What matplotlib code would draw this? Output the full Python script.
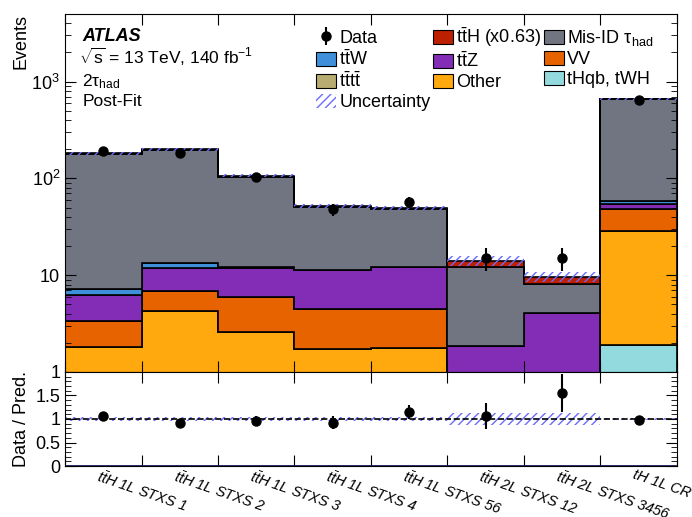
import numpy as np
import matplotlib
matplotlib.use("Agg")
import matplotlib.pyplot as plt
import matplotlib.patches as mpatches
from matplotlib.ticker import FixedLocator, MultipleLocator, LogLocator, NullFormatter

plt.rcParams["font.family"] = ["Liberation Sans", "DejaVu Sans"]
plt.rcParams["mathtext.fontset"] = "custom"
plt.rcParams["mathtext.rm"] = "Liberation Sans"
plt.rcParams["mathtext.it"] = "Liberation Sans:italic"
plt.rcParams["mathtext.bf"] = "Liberation Sans:bold"
plt.rcParams["mathtext.default"] = "regular"
plt.rcParams["hatch.linewidth"] = 1.0

# ---- data ----
bins = [r"$\mathit{t\bar{t}}$H 1L STXS 1", r"$\mathit{t\bar{t}}$H 1L STXS 2",
        r"$\mathit{t\bar{t}}$H 1L STXS 3", r"$\mathit{t\bar{t}}$H 1L STXS 4",
        r"$\mathit{t\bar{t}}$H 1L STXS 56", r"$\mathit{t\bar{t}}$H 2L STXS 12",
        r"$\mathit{t\bar{t}}$H 2L STXS 3456", "tH 1L CR"]

thqb  = [0.0, 0.0, 0.0, 0.0, 0.0, 0.0, 0.0, 1.90]
other = [1.80, 4.27, 2.61, 1.73, 1.78, 0.0, 0.0, 26.8]
vv    = [1.57, 2.56, 3.36, 2.72, 2.67, 0.0, 0.0, 19.5]
tttt  = [0.0, 0.0, 0.0, 0.0, 0.0, 0.0, 0.0, 0.0]
ttz   = [2.88, 4.97, 6.03, 6.85, 7.65, 1.87, 4.10, 6.0]
ttw   = [0.95, 1.50, 0.20, 0.10, 0.10, 0.0, 0.0, 4.9]
misid = [171.8, 184.7, 91.4, 39.1, 36.3, 10.3, 3.97, 602.0]
tth   = [2.5, 2.5, 3.4, 1.5, 1.0, 1.9, 1.6, 0.0]

data     = [193, 185, 103, 48, 57, 15, 15, 650]
data_err = [14, 14, 10, 7, 7.5, 3.9, 3.9, 25.5]
rel_unc  = [0.04, 0.04, 0.04, 0.04, 0.04, 0.12, 0.12, 0.02]

components = [
    ("tHqb, tWH", thqb, "#92dadd"),
    ("Other", other, "#ffa90e"),
    ("VV", vv, "#e76300"),
    (r"$t\bar{t}t\bar{t}$", tttt, "#b9ac70"),
    (r"$t\bar{t}$Z", ttz, "#832db6"),
    (r"$t\bar{t}$W", ttw, "#3f90da"),
    (r"Mis-ID $\tau_{had}$", misid, "#717581"),
    (r"$t\bar{t}$H (x0.63)", tth, "#bd1f01"),
]

edges = np.arange(len(bins) + 1)
centers = edges[:-1] + 0.5
hatch_col = "#6b6bff"

fig = plt.figure(figsize=(6.92, 5.17), dpi=100)
ax = fig.add_axes([0.094, 0.2805, 0.884, 0.6925])
rax = fig.add_axes([0.094, 0.0986, 0.884, 0.182], sharex=ax)

# stacked histogram
bottom = np.zeros(len(bins))
handles = {}
for label, vals, col in components:
    top = bottom + np.array(vals)
    ax.stairs(np.maximum(top, 0.01), edges, baseline=np.maximum(bottom, 0.01), fill=True,
              facecolor=col, edgecolor="black", lw=1.2)
    handles[label] = mpatches.Patch(facecolor=col, edgecolor="black", lw=0.8, label=label)
    bottom = top
total = bottom

unc = np.array(rel_unc) * total
ax.stairs(total + unc, edges, baseline=total - unc, fill=True, facecolor="none",
          edgecolor=hatch_col, hatch="////", lw=0)

data_h = ax.errorbar(centers, data, yerr=data_err, fmt="o", color="black", ms=6.5,
                     elinewidth=1.5, capsize=0, label="Data")

ax.set_yscale("log")
ax.set_ylim(1, 5000)
ax.set_xlim(0, len(bins))
ax.yaxis.set_major_locator(FixedLocator([1, 10, 100, 1000]))
ax.set_yticklabels(["1", "10", r"$10^{2}$", r"$10^{3}$"])
ax.yaxis.set_minor_locator(LogLocator(base=10, subs=np.arange(2, 10)))
ax.yaxis.set_minor_formatter(NullFormatter())
ax.set_xticks(edges)
ax.tick_params(axis="x", labelbottom=False)
ax.tick_params(which="both", direction="in", top=True, right=True, labelsize=13)
ax.tick_params(which="major", length=8)
ax.tick_params(which="minor", length=4)
ax.set_ylabel("Events", fontsize=13, loc="top")

# labels
ax.text(0.028, 0.925, "ATLAS", transform=ax.transAxes, fontsize=13,
        fontweight="bold", fontstyle="italic", va="baseline")
ax.text(0.022, 0.860, r"$\sqrt{s}$ = 13 TeV, 140 fb$^{-1}$", transform=ax.transAxes,
        fontsize=12.5, va="baseline")
ax.text(0.028, 0.799, r"2$\tau_{had}$", transform=ax.transAxes, fontsize=12.5, va="baseline")
ax.text(0.028, 0.743, "Post-Fit", transform=ax.transAxes, fontsize=12.5, va="baseline")

unc_h = mpatches.Patch(facecolor="none", edgecolor=hatch_col, hatch="////", lw=0,
                       label="Uncertainty")
order = [data_h, handles[r"$t\bar{t}$W"], handles[r"$t\bar{t}t\bar{t}$"], unc_h,
         handles[r"$t\bar{t}$H (x0.63)"], handles[r"$t\bar{t}$Z"], handles["Other"],
         handles[r"Mis-ID $\tau_{had}$"], handles["VV"], handles["tHqb, tWH"]]
labels = ["Data", r"$t\bar{t}$W", r"$t\bar{t}t\bar{t}$", "Uncertainty",
          r"$t\bar{t}$H (x0.63)", r"$t\bar{t}$Z", "Other",
          r"Mis-ID $\tau_{had}$", "VV", "tHqb, tWH"]
ax.legend(order, labels, ncol=3, loc="upper left", bbox_to_anchor=(0.396, 0.993),
          frameon=False, fontsize=13, handlelength=1.1, handleheight=0.85,
          handletextpad=0.17, columnspacing=0.17, labelspacing=0.15, borderpad=0)

# ratio panel
ratio = np.array(data) / total
ratio_err = np.array(data_err) / total
rax.stairs(1 + np.array(rel_unc), edges, baseline=1 - np.array(rel_unc), fill=True,
           facecolor="none", edgecolor=hatch_col, hatch="////", lw=0)
rax.axhline(1, color="black", ls="--", lw=1.2)
rax.axhline(0, color="#1a1a5a", lw=2)
rax.errorbar(centers, ratio, yerr=ratio_err, fmt="o", color="black", ms=6.5,
             elinewidth=1.5, capsize=0)
rax.set_ylim(0, 2)
rax.set_yticks([0, 0.5, 1, 1.5])
rax.set_yticklabels(["0", "0.5", "1", "1.5"])
rax.yaxis.set_minor_locator(MultipleLocator(0.1))
rax.set_xticks(edges)
rax.tick_params(axis="x", labelbottom=False)
rax.tick_params(which="both", direction="in", top=True, right=True, labelsize=13)
rax.tick_params(which="major", length=8)
rax.tick_params(which="minor", length=4)
rax.set_ylabel("Data / Pred.", fontsize=13)
rax.yaxis.set_label_coords(-0.058, 0.5)
ax.yaxis.set_label_coords(-0.058, 1.0)

for c, lab in zip(centers, bins):
    rax.text(c - 0.04, -0.02, lab, transform=rax.get_xaxis_transform(), rotation=-19,
             ha="left", va="top", rotation_mode="anchor", fontsize=10.5,
             fontstyle="italic")

fig.savefig("out.png", dpi=100)
